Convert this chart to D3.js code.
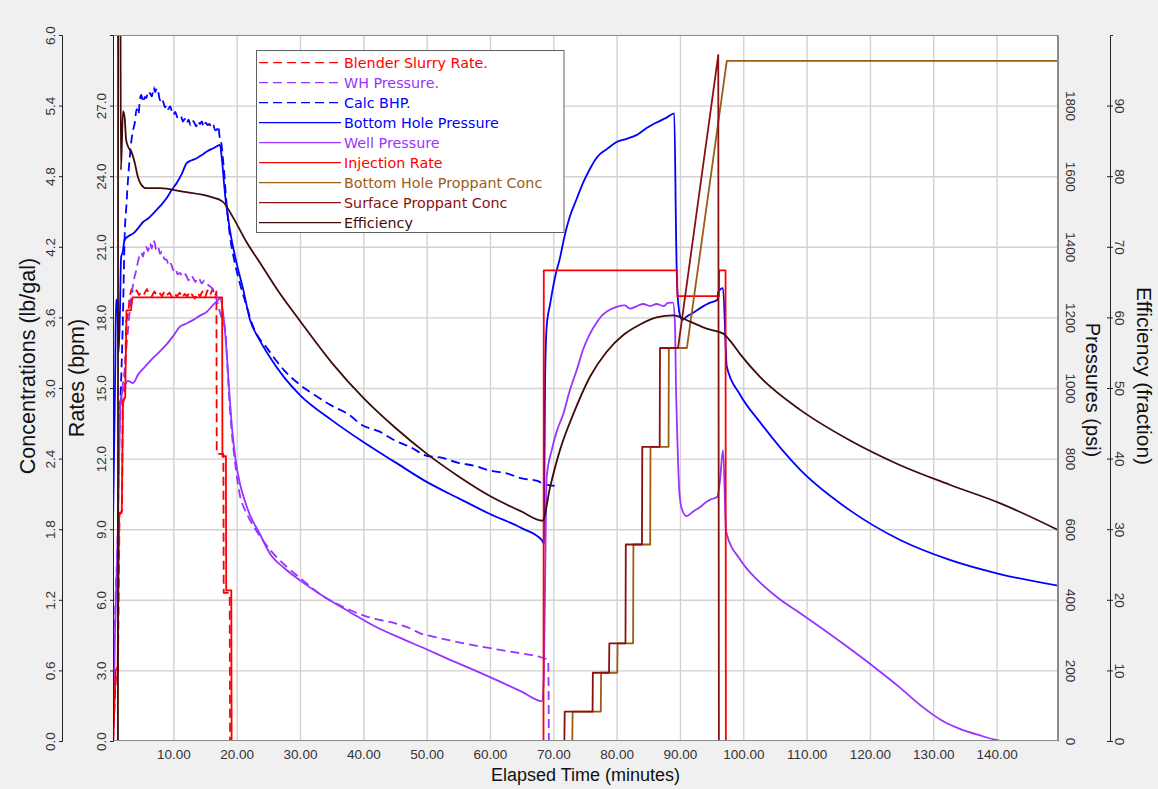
<!DOCTYPE html>
<html>
<head>
<meta charset="utf-8">
<script src="https://cdn.jsdelivr.net/npm/d3@7"></script>
<style>
  body { margin: 0; background: #ffffff; }
  svg { display: block; }
  .tick text { font-family: "Liberation Sans", Arial, sans-serif; font-size: 13.5px; fill: #333; }
  .title { font-family: "Liberation Sans", Arial, sans-serif; fill: #111; }
  .legend text { font-family: "DejaVu Sans", Verdana, sans-serif; font-size: 14.3px; }
</style>
</head>
<body>
<svg id="chart" width="1158" height="789"></svg>
<script>
// ---- axis ticks ----
const timeTicks = [10, 20, 30, 40, 50, 60, 70, 80, 90, 100, 110, 120, 130, 140];
const concTicks = [0, 0.6, 1.2, 1.8, 2.4, 3.0, 3.6, 4.2, 4.8, 5.4, 6.0];
const rateTicks = [0, 3, 6, 9, 12, 15, 18, 21, 24, 27];
const pressureTicks = [0, 200, 400, 600, 800, 1000, 1200, 1400, 1600, 1800];
const efficiencyTicks = [0, 10, 20, 30, 40, 50, 60, 70, 80, 90];

// ---- series: [elapsed minutes, value] ----
// Rates (bpm)
const blenderSlurryRate = [
  [0.5,0],[0.7,1.4],[0.95,2.8],[1.25,3.0],[1.5,9.6],[1.9,9.8],[2.0,14.3],[2.3,14.6],[2.55,17.8],[2.9,18.2],
  [3.1,18.9],[3.4,19.2],[3.8,19.0],[4.2,19.15],[4.6,18.95],[5.0,19.1],[5.4,19.0],[5.8,19.2],[6.2,19.0],[6.6,18.9],
  [7.0,19.1],[7.4,18.95],[7.8,19.05],[8.2,18.9],[8.6,19.1],[9.0,18.95],[9.4,19.05],[9.8,18.85],[10.2,19.0],[10.6,18.9],
  [11.0,19.05],[11.4,18.85],[11.8,19.0],[12.2,18.9],[12.6,19.1],[13.0,18.95],[13.4,18.8],[13.8,19.05],[14.2,18.9],[14.6,19.1],
  [15.0,18.85],[15.4,19.15],[15.8,18.95],[16.2,19.2],[16.6,18.9],[16.8,19.1],[16.85,12.2],[17.9,12.2],[17.95,6.3],[18.9,6.3],
  [18.95,0],[68.4,0]
];
const injectionRate = [
  [0.5,0],[0.65,1.2],[0.9,3.0],[1.2,3.15],[1.45,9.7],[1.85,9.7],[2.05,14.5],[2.4,14.6],[2.6,18.3],[3.3,18.3],
  [3.55,18.85],[17.7,18.85],[17.75,12.1],[18.3,12.1],[18.35,6.4],[19.15,6.4],[19.2,0],[68.45,0],[68.5,20.0],[89.55,20.0],
  [89.6,18.9],[96.15,18.9],[96.2,20.0],[97.2,20.0],[97.25,0],[149.7,0]
];

// Pressures (psi)
const whPressure = [
  [0.6,240],[0.9,420],[1.2,570],[1.5,880],[1.9,990],[2.3,1050],[2.6,1120],[2.84,1164],[3.1,1215],[3.37,1258],
  [3.7,1300],[4.15,1334],[4.5,1365],[4.94,1383],[5.2,1372],[5.5,1398],[5.73,1400],[6.0,1388],[6.3,1410],[6.6,1395],
  [6.8,1418],[7.06,1411],[7.3,1392],[7.6,1400],[7.9,1380],[8.2,1386],[8.6,1365],[8.95,1363],[9.3,1345],[9.6,1352],
  [10.0,1334],[10.3,1340],[10.7,1322],[11.05,1326],[11.4,1318],[11.7,1325],[12.1,1316],[12.4,1305],[12.8,1318],[13.15,1311],
  [13.5,1300],[13.8,1312],[14.2,1306],[14.5,1296],[14.9,1305],[15.3,1297],[15.6,1290],[16.0,1285],[16.3,1278],[16.6,1262],
  [16.85,1250],[17.2,1225],[17.6,1202],[18.2,1164],[18.6,1040],[18.95,937],[19.3,860],[19.7,796],[20.1,740],[20.5,697],
  [21.3,655],[22.1,626],[23.5,585],[25.3,541],[27.5,500],[30.0,462],[33.5,412],[37.9,371],[40.0,356],[42.0,345],
  [44.0,338],[45.8,329],[47.5,318],[49.0,305],[51.0,296],[53.7,285],[56.0,276],[58.4,268],[61.6,258],[64.7,249],
  [67.9,238],[69.2,229],[69.3,0]
];
const calcBHP = [
  [1.45,900],[1.75,1020],[2.05,1210],[2.3,1425],[2.6,1520],[2.84,1590],[3.1,1650],[3.37,1700],[3.7,1735],[3.9,1750],
  [4.2,1790],[4.5,1775],[4.7,1815],[4.94,1830],[5.2,1810],[5.5,1825],[5.73,1821],[6.0,1840],[6.3,1835],[6.6,1826],
  [6.9,1852],[7.1,1838],[7.4,1849],[7.6,1840],[7.9,1815],[8.2,1822],[8.4,1811],[8.7,1795],[8.95,1802],[9.2,1790],
  [9.5,1798],[9.8,1780],[10.0,1774],[10.3,1782],[10.6,1768],[10.9,1764],[11.2,1770],[11.5,1755],[11.8,1762],[12.1,1750],
  [12.4,1760],[12.7,1745],[13.0,1758],[13.3,1752],[13.6,1741],[13.9,1756],[14.2,1748],[14.5,1755],[14.8,1740],[15.1,1752],
  [15.4,1745],[15.7,1748],[16.0,1738],[16.3,1745],[16.6,1730],[16.85,1731],[17.1,1742],[17.3,1712],[17.6,1690],[17.9,1637],
  [18.4,1523],[18.95,1429],[19.5,1372],[20.5,1297],[21.6,1230],[22.6,1174],[25.0,1108],[27.5,1050],[30.0,1009],[32.5,978],
  [35.0,950],[37.5,927],[40.0,893],[42.5,877],[45.0,851],[47.5,832],[50.0,808],[52.5,802],[55.0,788],[57.5,780],
  [60.0,766],[62.5,759],[65.0,744],[67.5,737],[68.5,728],[70.8,722]
];
const bottomHolePressure = [
  [0.5,646],[0.8,1020],[0.95,1250],[1.15,1240],[1.35,1100],[1.55,1200],[1.75,1370],[2.0,1385],[2.3,1420],[2.9,1430],
  [3.68,1438],[4.4,1452],[5.26,1471],[6.0,1480],[6.84,1495],[7.9,1515],[8.95,1538],[9.7,1560],[10.5,1580],[11.3,1605],
  [12.1,1637],[12.9,1645],[13.7,1651],[14.5,1660],[15.3,1670],[16.4,1680],[17.37,1689],[17.6,1660],[18.2,1542],[18.95,1446],
  [20.0,1353],[21.05,1278],[22.1,1193],[23.5,1140],[25.0,1094],[27.5,1030],[30.0,980],[35.0,909],[40.0,847],[45.0,790],
  [50.0,734],[55.0,688],[60.0,643],[65.0,603],[68.2,569],[68.5,560],[68.7,1018],[68.95,1173],[69.5,1238],[70.3,1316],
  [71.05,1368],[71.8,1432],[72.6,1485],[73.7,1536],[74.7,1581],[75.8,1621],[76.6,1646],[77.4,1663],[78.4,1676],[80.0,1697],
  [81.6,1706],[83.2,1717],[84.8,1737],[86.3,1752],[87.9,1766],[89.1,1778],[89.4,1419],[89.55,1290],[90.0,1206],[90.4,1193],
  [91.05,1202],[92.1,1213],[93.7,1232],[94.7,1241],[95.95,1250],[96.0,1271],[96.8,1283],[97.4,1060],[99.5,981],[102.6,904],
  [109.0,768],[116.8,654],[124.7,570],[132.6,513],[140.5,473],[149.7,440]
];
const wellPressure = [
  [0.5,0],[0.75,270],[1.2,570],[1.7,970],[2.2,1000],[2.8,1020],[3.63,1014],[4.5,1040],[5.5,1060],[6.5,1080],
  [7.6,1099],[9.0,1125],[10.0,1148],[11.05,1174],[12.0,1182],[13.15,1193],[14.2,1205],[15.3,1216],[16.1,1232],[16.85,1245],
  [17.4,1254],[17.8,1220],[18.3,1130],[18.8,1000],[19.3,880],[19.8,800],[20.5,730],[21.3,680],[22.1,640],[23.5,592],
  [25.3,530],[27.5,490],[30.0,455],[33.5,412],[37.9,365],[41.8,325],[45.8,292],[49.7,262],[53.7,230],[57.6,200],
  [61.6,168],[65.0,140],[68.2,113],[68.5,180],[68.75,520],[68.95,747],[69.75,824],[70.5,875],[71.6,928],[72.6,993],
  [73.7,1051],[74.7,1109],[75.8,1154],[76.9,1187],[77.7,1206],[78.4,1216],[80.0,1230],[81.3,1234],[82.1,1225],[83.2,1232],
  [84.2,1238],[85.3,1232],[86.3,1238],[87.4,1232],[88.1,1241],[88.9,1242],[89.2,1187],[89.4,980],[89.6,850],[89.9,708],
  [90.3,657],[91.05,637],[92.1,650],[93.2,663],[94.0,675],[94.7,683],[95.9,692],[96.3,734],[96.8,824],[97.3,592],
  [99.5,514],[102.6,450],[105.5,405],[109.0,362],[112.5,318],[116.8,262],[120.5,212],[124.7,152],[128.0,101],[131.3,59],
  [134.0,36],[137.0,18],[141.3,0],[149.7,0]
];

// Concentrations (lb/gal)
const bottomHoleProppantConc = [
  [0.5,0],[73.0,0],[73.05,0.25],[77.5,0.25],[77.55,0.58],[80.1,0.58],[80.15,0.83],[82.6,0.83],[82.65,1.67],[85.3,1.67],
  [85.35,2.5],[88.2,2.5],[88.25,3.34],[91.1,3.34],[97.4,5.78],[149.7,5.78]
];
const surfaceProppantConc = [
  [0.5,0],[71.75,0],[71.8,0.25],[76.2,0.25],[76.25,0.58],[78.8,0.58],[78.85,0.83],[81.4,0.83],[81.45,1.67],[84.0,1.67],
  [84.05,2.5],[86.8,2.5],[86.85,3.34],[89.7,3.34],[96.05,5.83],[96.15,0],[149.7,0]
];

// Efficiency (fraction, %)
const efficiency = [
  [0.5,0],[1.25,0],[1.28,120],[1.6,120],[1.72,80.9],[2.05,89.2],[2.3,88.4],[2.55,85.1],[2.95,84.0],[3.35,83.5],
  [3.9,81.9],[4.4,79.9],[4.94,78.8],[5.7,78.3],[7.9,78.3],[11.5,77.8],[15.8,77.1],[17.8,76.4],[19.4,74.2],[21.6,70.6],
  [23.7,67.7],[26.5,63.8],[30.0,59.5],[35.0,53.6],[40.0,48.6],[45.0,44.4],[50.0,40.7],[55.0,37.5],[60.0,34.7],[65.0,32.5],
  [68.3,31.2],[69.5,36.0],[71.05,41.2],[73.2,46.4],[75.8,51.6],[78.4,55.1],[81.05,57.5],[83.7,59.0],[86.3,60.0],[88.95,60.3],
  [91.6,59.4],[94.2,58.4],[96.85,57.7],[97.9,56.7],[99.5,54.8],[102.6,51.6],[109.0,46.9],[116.8,42.6],[124.7,39.1],[132.6,36.3],
  [140.5,33.7],[149.7,29.9]
];

// ---- layout ----
const W = 1158, H = 789;
const plot = { left: 113, right: 1058, top: 35, bottom: 741 };
const svg = d3.select('#chart');

svg.append('rect').attr('x', 0).attr('y', 0).attr('width', W).attr('height', H).attr('fill', '#f0f0f0');
svg.append('rect')
  .attr('x', plot.left).attr('y', plot.top)
  .attr('width', plot.right - plot.left).attr('height', plot.bottom - plot.top)
  .attr('fill', '#ffffff');

const x = d3.scaleLinear().domain([0.47, 149.7]).range([plot.left, plot.right]);
const yRate = d3.scaleLinear().domain([0, 30]).range([plot.bottom, plot.top]);
const yConc = d3.scaleLinear().domain([0, 6]).range([plot.bottom, plot.top]);
const yPres = d3.scaleLinear().domain([0, 2000]).range([plot.bottom, plot.top]);
const yEff = d3.scaleLinear().domain([0, 100]).range([plot.bottom, plot.top]);

// grid
const grid = svg.append('g').attr('class', 'grid');
grid.append('g')
  .attr('transform', `translate(0,${plot.bottom})`)
  .call(d3.axisBottom(x).tickValues(timeTicks).tickSize(-(plot.bottom - plot.top)).tickFormat(''))
  .call(g => g.select('.domain').remove());
grid.append('g')
  .attr('transform', `translate(${plot.left},0)`)
  .call(d3.axisLeft(yConc).tickValues(concTicks.slice(1, -1)).tickSize(-(plot.right - plot.left)).tickFormat(''))
  .call(g => g.select('.domain').remove());
grid.selectAll('line').attr('stroke', '#d2d2d2').attr('stroke-width', 1.4);

// clip for series
svg.append('clipPath').attr('id', 'plotClip')
  .append('rect')
  .attr('x', plot.left).attr('y', plot.top)
  .attr('width', plot.right - plot.left).attr('height', plot.bottom - plot.top);

// step-like series are drawn straight, measured curves are smoothed
const series = [
  { name: 'Blender Slurry Rate.', data: blenderSlurryRate, y: yRate, color: '#ff0000', dash: '9,5', smooth: false },
  { name: 'WH Pressure.', data: whPressure, y: yPres, color: '#9933ff', dash: '9,5', smooth: true },
  { name: 'Calc BHP.', data: calcBHP, y: yPres, color: '#0000ff', dash: '9,5', smooth: true },
  { name: 'Bottom Hole Pressure', data: bottomHolePressure, y: yPres, color: '#0000ff', dash: null, smooth: true },
  { name: 'Well Pressure', data: wellPressure, y: yPres, color: '#9933ff', dash: null, smooth: true },
  { name: 'Injection Rate', data: injectionRate, y: yRate, color: '#ff0000', dash: null, smooth: false },
  { name: 'Bottom Hole Proppant Conc', data: bottomHoleProppantConc, y: yConc, color: '#9c5b17', dash: null, smooth: false },
  { name: 'Surface Proppant Conc', data: surfaceProppantConc, y: yConc, color: '#8b1010', dash: null, smooth: false },
  { name: 'Efficiency', data: efficiency, y: yEff, color: '#3f0b0b', dash: null, smooth: true }
];

const lines = svg.append('g').attr('clip-path', 'url(#plotClip)');
series.forEach(s => {
  const line = d3.line()
    .x(d => x(d[0])).y(d => s.y(d[1]))
    .curve(s.smooth ? d3.curveMonotoneX : d3.curveLinear);
  lines.append('path')
    .datum(s.data)
    .attr('d', line)
    .attr('fill', 'none')
    .attr('stroke', s.color)
    .attr('stroke-width', 1.8)
    .attr('stroke-linejoin', 'round')
    .attr('stroke-dasharray', s.dash);
});

// plot frame
svg.append('rect')
  .attr('x', plot.left + 0.5).attr('y', plot.top + 0.5)
  .attr('width', plot.right - plot.left - 1).attr('height', plot.bottom - plot.top - 1)
  .attr('fill', 'none').attr('stroke', '#8a8a8a').attr('stroke-width', 1);

// ---- axes ----
function rotateLabels(g, dx, angle) {
  g.selectAll('.tick text')
    .attr('x', 0).attr('y', 0).attr('dy', '0.35em')
    .attr('text-anchor', 'middle')
    .attr('transform', `translate(${dx},0) rotate(${angle})`);
}

// time axis
svg.append('g')
  .attr('transform', `translate(0,${plot.bottom})`)
  .call(d3.axisBottom(x).tickValues(timeTicks).tickFormat(d3.format('.2f')).tickSize(0).tickPadding(8))
  .call(g => g.select('.domain').remove());

// concentration axis
const concAxis = svg.append('g')
  .attr('transform', 'translate(62,0)')
  .call(d3.axisLeft(yConc).tickValues(concTicks).tickFormat(d3.format('.1f')).tickSize(3));
concAxis.select('.domain').attr('stroke', '#222');
concAxis.selectAll('.tick line').attr('stroke', '#222');
rotateLabels(concAxis, -12, -90);

// rate axis
const rateAxis = svg.append('g')
  .attr('transform', `translate(${plot.left},0)`)
  .call(d3.axisLeft(yRate).tickValues(rateTicks).tickFormat(d3.format('.1f')).tickSize(3));
rateAxis.select('.domain').attr('stroke', '#222');
rateAxis.selectAll('.tick line').attr('stroke', '#222');
rotateLabels(rateAxis, -11.5, -90);

// pressure axis
const presAxis = svg.append('g')
  .attr('transform', `translate(${plot.right},0)`)
  .call(d3.axisRight(yPres).tickValues(pressureTicks).tickFormat(d3.format('d')).tickSize(0));
presAxis.select('.domain').attr('stroke', '#8a8a8a');
rotateLabels(presAxis, 13, 90);

// efficiency axis
const effAxis = svg.append('g')
  .attr('transform', 'translate(1110,0)')
  .call(d3.axisRight(yEff).tickValues(efficiencyTicks).tickFormat(d3.format('d')).tickSize(3));
effAxis.select('.domain').attr('stroke', '#222');
effAxis.selectAll('.tick line').attr('stroke', '#222').attr('x1', -3);
rotateLabels(effAxis, 10, 90);

// axis titles
function title(text, cx, cy, angle, size) {
  svg.append('text').attr('class', 'title')
    .attr('text-anchor', 'middle').attr('dy', '0.35em')
    .style('font-size', size + 'px')
    .attr('transform', `translate(${cx},${cy}) rotate(${angle})`)
    .text(text);
}
title('Elapsed Time (minutes)', 585.5, 775, 0, 18);
title('Concentrations (lb/gal)', 27, 366, -90, 21.5);
title('Rates (bpm)', 76, 378, -90, 21.5);
title('Pressures (psi)', 1093, 390, 90, 20);
title('Efficiency (fraction)', 1144, 376, 90, 21);

// ---- legend ----
const legend = svg.append('g').attr('class', 'legend');
legend.append('rect')
  .attr('x', 256.5).attr('y', 50.5).attr('width', 307.5).attr('height', 182)
  .attr('fill', '#ffffff').attr('stroke', '#606060').attr('stroke-width', 1);
series.forEach((s, i) => {
  const cy = 62.7 + i * 20;
  legend.append('line')
    .attr('x1', 259).attr('x2', 341).attr('y1', cy).attr('y2', cy)
    .attr('stroke', s.color).attr('stroke-width', 1.2)
    .attr('stroke-dasharray', s.dash);
  legend.append('text')
    .attr('x', 344).attr('y', cy).attr('dy', '0.36em')
    .attr('fill', s.color)
    .text(s.name);
});
</script>
</body>
</html>
